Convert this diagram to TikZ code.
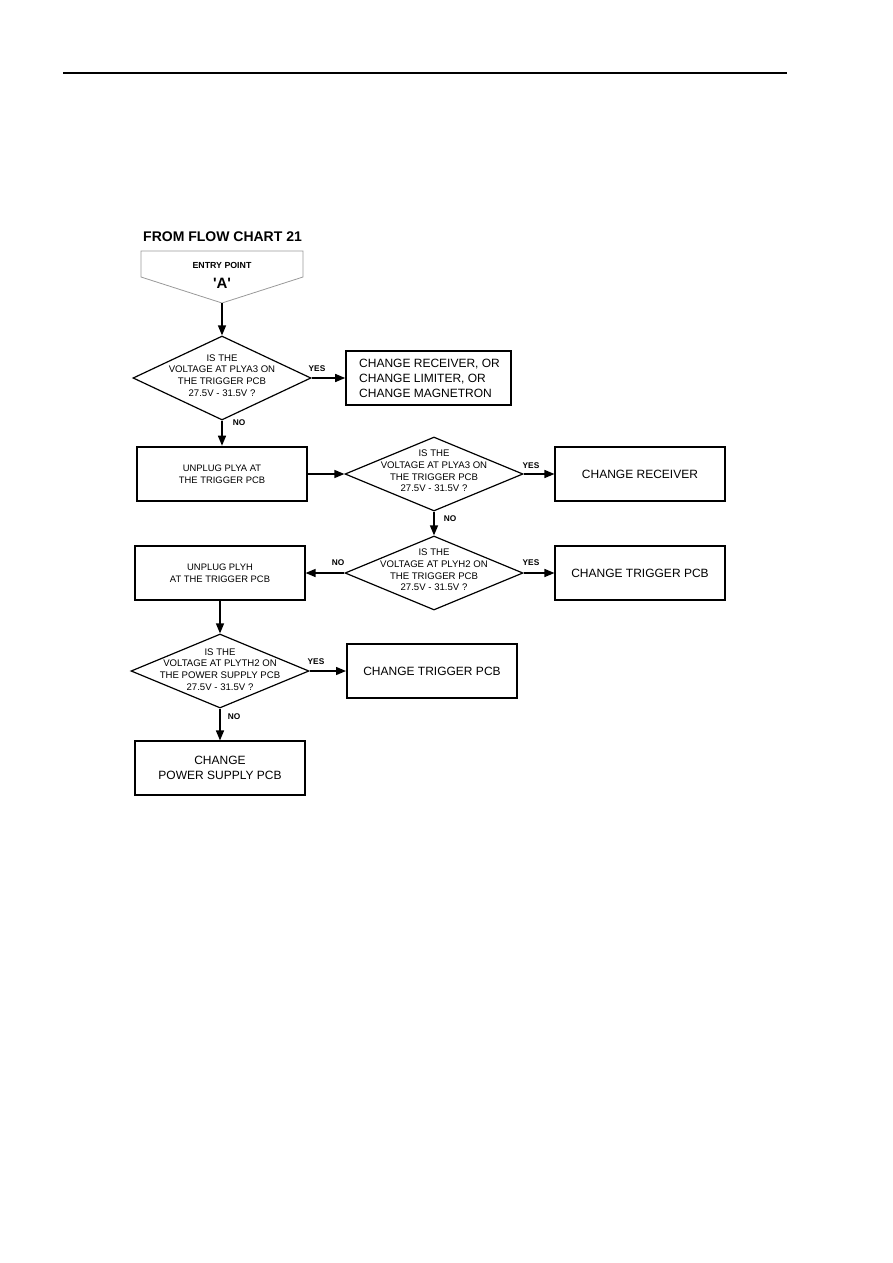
\documentclass[tikz,border=0pt]{standalone}
\usepackage{fontspec}
\setmainfont{Liberation Sans}
\usetikzlibrary{shapes.geometric,arrows.meta}
\begin{document}
\begin{tikzpicture}[x=1pt,y=-1pt,
  arr/.style={line width=1.4pt,-{Triangle[length=10pt,width=8pt]}},
  dia/.style={diamond,draw,line width=1.2pt,inner sep=0pt,minimum width=178pt,minimum height=84pt},
  dtext/.style={align=center,inner sep=0pt,font=\fontsize{9.6}{11.7}\selectfont},
  sbox/.style={draw,line width=1.1pt,minimum width=170pt,minimum height=54pt,align=center,inner sep=0pt,font=\fontsize{9.4}{11.7}\selectfont},
  bbox/.style={draw,line width=1.1pt,minimum width=170pt,minimum height=54pt,align=center,inner sep=0pt,font=\fontsize{12}{15.5}\selectfont},
  lbl/.style={inner sep=0pt,font=\bfseries\fontsize{8.3}{9}\selectfont}
]
\useasboundingbox (0,0) rectangle (893,1263);
% top rule
\coordinate (r1) at (63,73);
\coordinate (r2) at (787,73);
\draw[line width=1.4pt] (r1) -- (r2);

% title
\node[inner sep=0pt,anchor=west,font=\bfseries\fontsize{14}{16}\selectfont] (title) at (143,237) {FROM FLOW CHART 21};

% entry point pentagon
\coordinate (e1) at (141,251);
\coordinate (e2) at (303,251);
\coordinate (e3) at (303,277);
\coordinate (ent) at (222,303);
\coordinate (e5) at (141,277);
\draw[gray!80,line width=0.8pt] (e1) -- (e2) -- (e3) -- (ent) -- (e5) -- cycle;
\node[inner sep=0pt,font=\bfseries\fontsize{8.8}{10}\selectfont] (etxt) at (222,265) {ENTRY POINT};
\node[inner sep=0pt,font=\bfseries\fontsize{15}{16}\selectfont] (atxt) at (222,283) {\textquotesingle A\textquotesingle};

% diamond 1
\node[dia] (d1) at (222,378) {};
\node[dtext] (d1t) at (222,375.5) {IS THE\\VOLTAGE AT PLYA3 ON\\THE TRIGGER PCB\\27.5V - 31.5V ?};
\node[draw,line width=1.6pt,minimum width=165pt,minimum height=54pt,inner sep=0pt] (b1) at (428.5,378) {};
\node[inner sep=0pt,anchor=west,align=left,font=\fontsize{12}{15}\selectfont] (b1t) at (359,378) {CHANGE RECEIVER, OR\\CHANGE LIMITER, OR\\CHANGE MAGNETRON};

% box 2
\node[sbox,line width=2.6pt] (b2) at (222,474) {UNPLUG PLYA AT\\THE TRIGGER PCB};

% diamond 2
\node[dia,minimum height=74pt] (d2) at (434,474) {};
\node[dtext] (d2t) at (434,471) {IS THE\\VOLTAGE AT PLYA3 ON\\THE TRIGGER PCB\\27.5V - 31.5V ?};
\node[bbox] (b3) at (640,474) {CHANGE RECEIVER};

% diamond 3
\node[dia,minimum height=74pt] (d3) at (434,573) {};
\node[dtext] (d3t) at (434,570) {IS THE\\VOLTAGE AT PLYH2 ON\\THE TRIGGER PCB\\27.5V - 31.5V ?};
\node[bbox] (b4) at (640,573) {CHANGE TRIGGER PCB};
\node[sbox] (b5) at (220,573) {UNPLUG PLYH\\AT THE TRIGGER PCB};

% diamond 4
\node[dia,minimum height=74pt] (d4) at (220,671) {};
\node[dtext] (d4t) at (220,669.5) {IS THE\\VOLTAGE AT PLYTH2 ON\\THE POWER SUPPLY PCB\\27.5V - 31.5V ?};
\node[bbox,line width=2pt] (b6) at (432,671) {CHANGE TRIGGER PCB};
\node[bbox] (b7) at (220,768) {CHANGE\\POWER SUPPLY PCB};

% connectors
\draw[arr] (ent) -- (d1.north);
\draw[arr] (d1.east) -- (b1.west);
\draw[arr] (d1.south) -- (b2.north);
\draw[arr] (b2.east) -- (d2.west);
\draw[arr] (d2.east) -- (b3.west);
\draw[arr] (d2.south) -- (d3.north);
\draw[arr] (d3.east) -- (b4.west);
\draw[arr] (d3.west) -- (b5.east);
\draw[arr] (b5.south) -- (d4.north);
\draw[arr] (d4.east) -- (b6.west);
\draw[arr] (d4.south) -- (b7.north);

% labels
\node[lbl] (y1) at (317,369) {YES};
\node[lbl] (n1) at (239,423) {NO};
\node[lbl] (y2) at (531,466) {YES};
\node[lbl] (n2) at (450,519) {NO};
\node[lbl] (y3) at (531,563) {YES};
\node[lbl] (n3) at (338,563) {NO};
\node[lbl] (y4) at (316,662) {YES};
\node[lbl] (n4) at (234,717) {NO};
\end{tikzpicture}
\end{document}
